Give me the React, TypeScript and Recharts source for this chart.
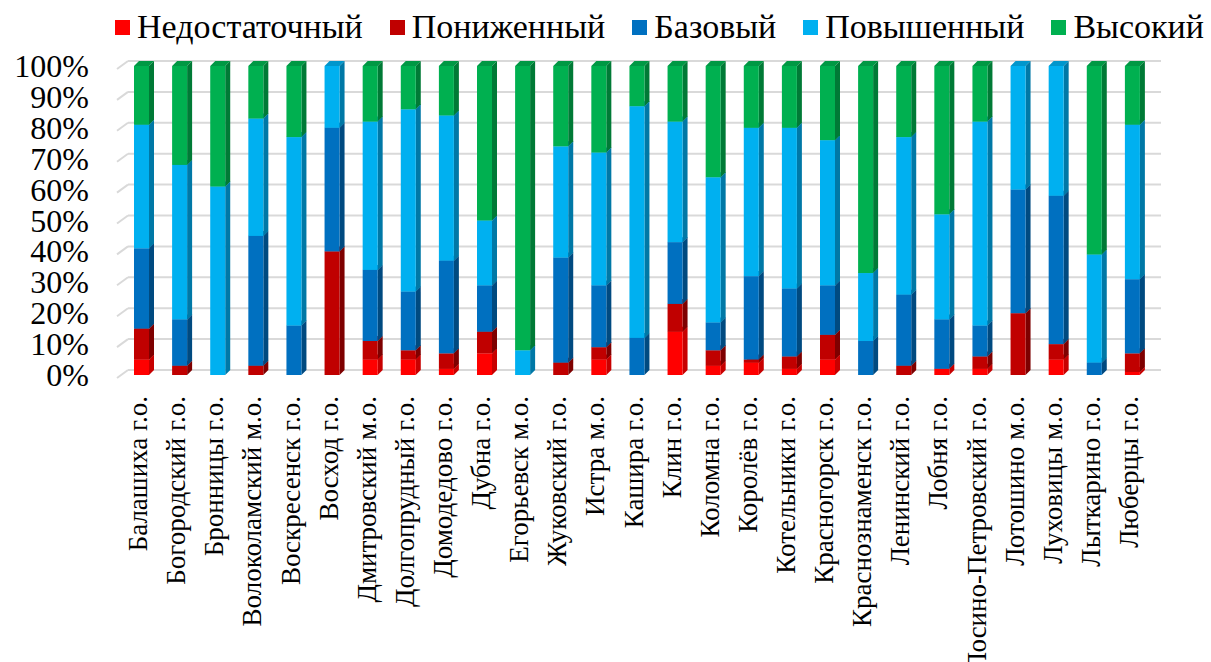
import { BarChart, Bar, XAxis, YAxis, CartesianGrid } from 'recharts';

const categories = [
  'Балашиха г.о.', 'Богородский г.о.', 'Бронницы г.о.', 'Волоколамский м.о.', 'Воскресенск  г.о.',
  'Восход г.о.', 'Дмитровский м.о.', 'Долгопрудный г.о.', 'Домодедово г.о.', 'Дубна г.о.',
  'Егорьевск м.о.', 'Жуковский г.о.', 'Истра м.о.', 'Кашира г.о.', 'Клин г.о.',
  'Коломна г.о.', 'Королёв г.о.', 'Котельники г.о.', 'Красногорск г.о.', 'Краснознаменск  г.о.',
  'Ленинский г.о.', 'Лобня г.о.', 'Лосино-Петровский г.о.', 'Лотошино м.о.', 'Луховицы м.о.',
  'Лыткарино г.о.', 'Люберцы г.о.',
];

// shares of pupils by level, %
const nedostatochny = [5, 0, 0, 0, 0, 0, 5, 5, 2, 7, 0, 0, 5, 0, 14, 3, 4, 2, 5, 0, 0, 2, 2, 0, 5, 0, 1];
const ponizhenny = [10, 3, 0, 3, 0, 40, 6, 3, 5, 7, 0, 4, 4, 0, 9, 5, 1, 4, 8, 0, 3, 0, 4, 20, 5, 0, 6];
const bazovy = [26, 15, 0, 42, 16, 40, 23, 19, 30, 15, 0, 34, 20, 12, 20, 9, 27, 22, 16, 11, 23, 16, 10, 40, 48, 4, 24];
const povyshenny = [40, 50, 61, 38, 61, 20, 48, 59, 47, 21, 8, 36, 43, 75, 39, 47, 48, 52, 47, 22, 51, 34, 66, 40, 42, 35, 50];
const vysoky = [19, 32, 39, 17, 23, 0, 18, 14, 16, 50, 92, 26, 28, 13, 18, 36, 20, 20, 24, 67, 23, 48, 18, 0, 0, 61, 19];

const yTicks = [0, 10, 20, 30, 40, 50, 60, 70, 80, 90, 100];

const series = [
  { key: 'nedostatochny', name: 'Недостаточный', color: '#FF0000', side: '#C80000', top: '#E00000' },
  { key: 'ponizhenny', name: 'Пониженный', color: '#C00000', side: '#7E0000', top: '#A00000' },
  { key: 'bazovy', name: 'Базовый', color: '#0070C0', side: '#004A80', top: '#005EA2' },
  { key: 'povyshenny', name: 'Повышенный', color: '#00B0F0', side: '#0078A6', top: '#0096CC' },
  { key: 'vysoky', name: 'Высокий', color: '#00B050', side: '#007A36', top: '#009844' },
];

const data = categories.map((name, i) => ({
  name,
  nedostatochny: nedostatochny[i],
  ponizhenny: ponizhenny[i],
  bazovy: bazovy[i],
  povyshenny: povyshenny[i],
  vysoky: vysoky[i],
}));

const FONT = '"Liberation Serif", "Times New Roman", serif';
const D = 5; // depth of the fake 3d

const makeShape = (color: string, side: string, top: string) => (props: any) => {
  const { x, y, width, height } = props;
  if (!height || height <= 0) return <g />;
  return (
    <g>
      <polygon points={`${x},${y} ${x + D},${y - D} ${x + width + D},${y - D} ${x + width},${y}`} fill={top} />
      <polygon points={`${x + width},${y} ${x + width + D},${y - D} ${x + width + D},${y + height - D} ${x + width},${y + height}`} fill={side} />
      <rect x={x} y={y} width={width} height={height} fill={color} />
    </g>
  );
};

const gridLine = (props: any) => {
  const { x1, x2, y1, key } = props;
  return (
    <g key={key}>
      <line x1={x1 - 5} y1={y1 + 3} x2={x1 + 6} y2={y1 - 5} stroke="#D9D9D9" strokeWidth={2} />
      <line x1={x1 + 6} y1={y1 - 5} x2={x2 + 10} y2={y1 - 5} stroke="#D9D9D9" strokeWidth={2} />
    </g>
  );
};

const YTick = ({ y, payload }: any) => (
  <text x={89} y={y} textAnchor="end" dominantBaseline="central" fontFamily={FONT} fontSize={32} fill="#000">
    {`${payload.value}%`}
  </text>
);

const XTick = ({ x, y, payload }: any) => (
  <text
    x={x - 3}
    y={y + 13}
    transform={`rotate(-90, ${x - 3}, ${y + 13})`}
    textAnchor="end"
    dominantBaseline="central"
    fontFamily={FONT}
    fontSize={27}
    fill="#000"
  >
    {payload.value}
  </text>
);

export default function App() {
  return (
    <div style={{ position: 'absolute', left: 0, top: 0, width: 1211, height: 662, background: '#fff', overflow: 'hidden' }}>
      <div
        style={{
          position: 'absolute',
          left: 115,
          top: 8,
          display: 'flex',
          alignItems: 'center',
          gap: 27,
          fontFamily: FONT,
          fontSize: 34,
          color: '#000',
          whiteSpace: 'nowrap',
        }}
      >
        {series.map((s) => (
          <span key={s.key} style={{ display: 'flex', alignItems: 'center', gap: 7 }}>
            <span style={{ width: 15, height: 15, background: s.color, display: 'inline-block' }} />
            {s.name}
          </span>
        ))}
      </div>
      <BarChart width={1211} height={662} data={data} margin={{ top: 66, right: 60, bottom: 0, left: 0 }} barSize={15}>
        <CartesianGrid horizontal={gridLine} vertical={false} />
        <XAxis dataKey="name" interval={0} axisLine={false} tickLine={false} height={287} tick={<XTick />} />
        <YAxis domain={[0, 100]} ticks={yTicks} width={122} axisLine={false} tickLine={false} tick={<YTick />} />
        {series.map((s) => (
          <Bar
            key={s.key}
            dataKey={s.key}
            name={s.name}
            stackId="a"
            fill={s.color}
            isAnimationActive={false}
            shape={makeShape(s.color, s.side, s.top)}
          />
        ))}
      </BarChart>
    </div>
  );
}
